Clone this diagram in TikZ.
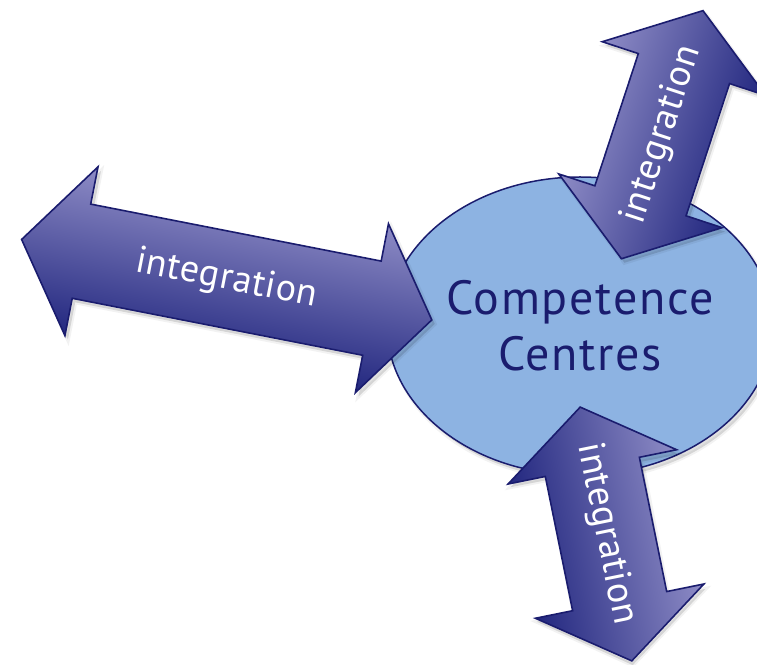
\documentclass[tikz,border=0pt]{standalone}
\usepackage{fontspec}
\setmainfont{PT Sans}
\usetikzlibrary{shapes.geometric}
\definecolor{ellfill}{HTML}{8DB3E2}
\definecolor{navy}{HTML}{1A1C6E}
\definecolor{arrlight}{HTML}{8E8CC6}
\definecolor{arrdark}{HTML}{22277F}
\newcommand\dblarrowpath[1]{(-#1,0) -- (-#1+61,86) -- (-#1+61,48) -- (#1-61,48) -- (#1-61,86) -- (#1,0) -- (#1-61,-86) -- (#1-61,-48) -- (-#1+61,-48) -- (-#1+61,-86) -- cycle}
\begin{document}
\begin{tikzpicture}[x=1pt,y=1pt,
  arrowbody/.style={draw=navy, line width=1.6pt, line join=miter, top color=arrlight, bottom color=arrdark},
  arrowtext/.style={text=white, font=\fontsize{38}{40}\selectfont\addfontfeatures{LetterSpace=1.5}, inner sep=0pt},
  softshadow/.style={fill=black, fill opacity=0.12, draw=black, draw opacity=0.05, line width=4pt},
  centre/.style={ellipse, minimum width=386pt, minimum height=298pt, inner sep=0pt,
    fill=ellfill, draw=navy, line width=1.5pt, text=navy, align=center,
    font=\fontsize{48}{56}\selectfont\addfontfeatures{LetterSpace=3.5}}]
\useasboundingbox (0,0) rectangle (757,664);
\clip (0,0) rectangle (757,664);
% centre ellipse
\fill[softshadow] (583,334) ellipse [x radius=193, y radius=149];
\node[centre] (cc) at (580,338) {Competence\\Centres};
% left arrow
\fill[softshadow, shift={(229.7,380.3)}, rotate=-11.1] \dblarrowpath{209};
\begin{scope}[transform canvas={shift={(226.7,384.3)}, rotate=-11.1}]
  \path[arrowbody] \dblarrowpath{209};
  \node[arrowtext] (ileft) at (0,0) {integration};
\end{scope}
% top-right arrow
\fill[softshadow, shift={(665.2,525.3)}, rotate=71.8] \dblarrowpath{130.6};
\begin{scope}[transform canvas={shift={(662.2,529.3)}, rotate=71.8}]
  \path[arrowbody] \dblarrowpath{130.6};
  \node[arrowtext] (itop) at (0,0) {integration};
\end{scope}
% bottom arrow
\fill[softshadow, shift={(608,126)}, rotate=-79] \dblarrowpath{129.5};
\begin{scope}[transform canvas={shift={(606,130)}, rotate=-78.5}]
  \path[arrowbody] \dblarrowpath{129.5};
  \node[arrowtext] (ibottom) at (0,0) {integration};
\end{scope}
\end{tikzpicture}
\end{document}
